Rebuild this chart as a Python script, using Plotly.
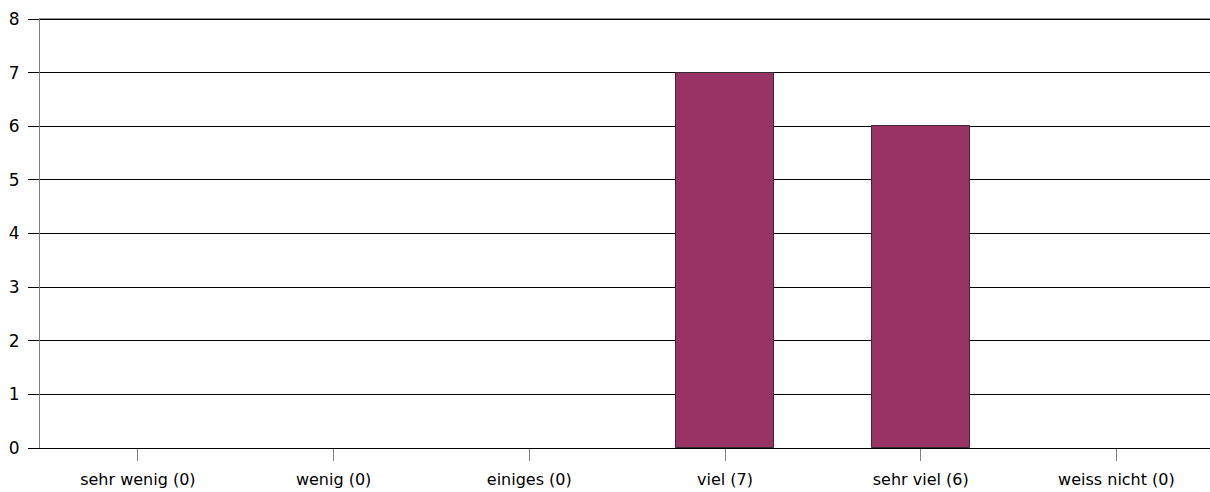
import plotly.graph_objects as go

categories = ["sehr wenig (0)", "wenig (0)", "einiges (0)", "viel (7)", "sehr viel (6)", "weiss nicht (0)"]
values = [0, 0, 0, 7, 6, 0]
y_ticks = [0, 1, 2, 3, 4, 5, 6, 7, 8]

fig = go.Figure(go.Bar(
    x=list(range(len(categories))),
    y=values,
    width=0.5,
    marker=dict(color="#993366",
                line=dict(color="#3a2a33", width=[1 if v > 0 else 0 for v in values])),
))

fig.update_layout(
    width=1210, height=492,
    margin=dict(l=40, r=0, t=18, b=44, autoexpand=False),
    plot_bgcolor="white", paper_bgcolor="white",
    showlegend=False,
    font=dict(family="DejaVu Sans, sans-serif", size=16, color="black"),
    bargap=0,
)
# top gridline at the range edge (plotly skips the grid line at the plot border)
fig.add_shape(type="line", xref="paper", yref="y", x0=0, x1=1, y0=y_ticks[-1], y1=y_ticks[-1],
              line=dict(color="black", width=1), layer="below")
fig.update_xaxes(
    range=[-0.5, 5.478], automargin=False,
    tickmode="array", tickvals=list(range(len(categories))), ticktext=categories,
    showgrid=False, zeroline=False,
    showline=True, linecolor="black", linewidth=1,
    ticks="outside", ticklen=12, tickcolor="#808080", tickwidth=1,
    tickfont=dict(size=16), ticklabelstandoff=5,
)
fig.update_yaxes(
    range=[0, 8.02], automargin=False,
    tickmode="array", tickvals=y_ticks,
    showgrid=True, gridcolor="black", gridwidth=1,
    zeroline=False,
    showline=True, linecolor="#808080", linewidth=1,
    ticks="outside", ticklen=11, tickcolor="black", tickwidth=1,
    tickfont=dict(size=17), ticklabelstandoff=5,
)
fig.write_html("out.html", config={"displayModeBar": False},
               post_script="document.body.style.margin='0';document.body.style.overflow='hidden';")
